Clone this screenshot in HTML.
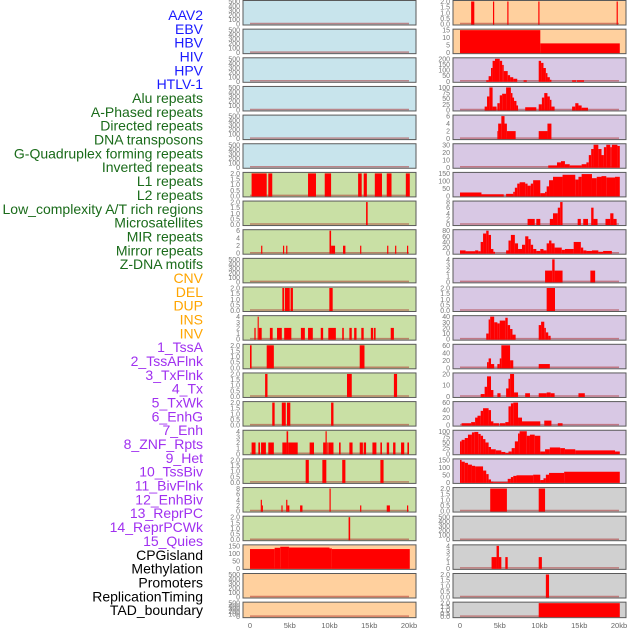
<!DOCTYPE html>
<html><head><meta charset="utf-8"><style>
html,body{margin:0;padding:0;background:#fff;width:630px;height:630px;overflow:hidden}
svg{display:block}
</style></head><body>
<svg id="chart" width="630" height="630" xmlns="http://www.w3.org/2000/svg" font-family="Liberation Sans, sans-serif"></svg>
<script>
// ---- data ----
const labelNames = ["AAV2","EBV","HBV","HIV","HPV","HTLV-1","Alu repeats","A-Phased repeats","Directed repeats","DNA transposons","G-Quadruplex forming repeats","Inverted repeats","L1 repeats","L2 repeats","Low_complexity A/T rich regions","Microsatellites","MIR repeats","Mirror repeats","Z-DNA motifs","CNV","DEL","DUP","INS","INV","1_TssA","2_TssAFlnk","3_TxFlnk","4_Tx","5_TxWk","6_EnhG","7_Enh","8_ZNF_Rpts","9_Het","10_TssBiv","11_BivFlnk","12_EnhBiv","13_ReprPC","14_ReprPCWk","15_Quies","CPGisland","Methylation","Promoters","ReplicationTiming","TAD_boundary"];
const labelGroups = [0,0,0,0,0,0,1,1,1,1,1,1,1,1,1,1,1,1,1,2,2,2,2,2,3,3,3,3,3,3,3,3,3,3,3,3,3,3,3,4,4,4,4,4];
const xTickLabels = ["0","5kb","10kb","15kb","20kb"];
const xTickValues = [0,5,10,15,20];

const T500=[0,100,200,300,400,500], T2=[0.0,0.5,1.0,1.5,2.0], T4=[0,1,2,3,4], T6=[0,2,4,6], T8=[0,2,4,6,8];
// left column: backgrounds, ticks, segments [startKb,endKb,value]
const leftBg = ["b","b","b","b","b","b","g","g","g","g","g","g","g","g","g","g","g","g","g","o","o","o"];
const leftTicks = [T500,T500,T500,T500,T500,T500,T2,T2,T6,T500,T2,T4,T2,T2,T2,T4,T2,T8,T2,[0,50,100,150],T500,T500];
const leftMax = [500,500,500,500,500,500,2,2,6,500,2,4,2,2,2,4,2,8,2,175,500,500];
const leftSegs = [[],[],[],[],[],[],
 [[0.2,2.1,2],[2.3,2.8,2],[7.3,8.3,2],[9.4,10.2,2],[13.6,14.05,2],[14.3,14.7,2],[15.7,16.6,2],[17.2,17.8,2],[19.6,20.1,2]],
 [[14.6,14.8,2]],
 [[1.4,1.55,2],[4.15,4.3,2],[4.55,4.7,2],[10.0,10.2,6],[10.2,10.7,2],[11.7,12.0,2],[13.85,14.0,2],[17.25,17.4,2],[18.25,18.4,2],[19.75,19.9,2]],
 [],
 [[4.07,4.3,2],[4.4,5.0,2],[5.1,5.4,2],[9.98,10.4,2]],
 [[0.55,0.71,2],[0.96,1.1,4],[1.1,1.47,2],[2.5,2.85,2],[3.4,4.0,2],[4.3,5.2,2],[6.4,6.9,2],[7.3,7.9,2],[8.9,9.2,2],[9.85,10.8,2],[11.6,11.8,2],[12.5,12.8,2],[13.1,13.4,2],[14.0,14.3,2],[15.2,15.5,2],[15.6,15.8,2],[17.7,18.1,2]],
 [[0.0,0.2,2],[2.1,3.0,2],[13.8,14.4,2]],
 [[1.9,2.2,2],[12.2,12.8,2],[18.1,18.5,2]],
 [[2.8,3.1,2],[4.0,4.5,2],[4.65,5.07,2],[10.2,10.5,2]],
 [[0.2,0.7,2],[1.05,1.26,2],[1.39,2.0,2],[2.3,3.0,2],[4.07,4.6,2],[4.6,4.8,4],[4.8,6.0,2],[7.5,8.05,2],[9.2,9.5,2],[9.5,9.65,4],[9.65,9.7,2],[9.85,10.5,2],[11.2,11.4,2],[12.5,12.9,2],[13.8,14.2,2],[14.3,14.6,2],[15.4,15.9,2],[16.4,16.6,2],[17.2,17.5,2],[18.0,18.3,2],[19.0,19.4,2],[19.8,20.0,2]],
 [[7.0,7.4,2],[9.1,9.6,2],[11.6,12.0,2],[16.4,16.8,2]],
 [[1.35,1.5,4],[1.5,1.6,2],[3.95,4.1,2],[4.55,4.7,4],[4.7,4.95,2],[6.3,6.6,2],[10.0,10.15,8],[13.85,14.0,2],[17.2,17.6,2],[19.75,19.9,2]],
 [[12.4,12.6,2]],
 [[0,3.1,150],[3.1,3.8,160],[3.8,4.9,168],[4.9,10.0,162],[10.0,10.3,155],[10.3,20.1,150]],
 [],[]];
// right column
const rightBg = ["o","o","p","p","p","p","p","p","p","p","p","p","p","p","p","p","p","y","y","y","y","y"];
const rightTicks = [T2,[0,5,10,15],[0,50,100,150,200],[0,25,50,75,100],T6,[0,10,20,30],[0,50,100,150],T8,[0,20,40,60,80],T4,T2,[0,10,20,30,40],[0,20,40,60],[0,10,20],[0,20,40,60],[0,25,50,75,100],[0,50,100,150],T2,T500,T4,T2,T2];
const rightMax = [2,17,220,100,6,37,165,8,80,4,2,40,60,28,60,100,190,2,500,4,2,2];
const rightSegs = [
 [[1.4,1.8,2],[4.15,4.3,2],[5.95,6.1,2],[9.85,10.0,2],[19.7,19.85,2]],
 [[0,10.1,17],[10.1,20.1,7]],
 [[3.3,3.6,10],[3.6,3.9,50],[3.9,4.1,130],[4.1,4.4,200],[4.4,5.0,220],[5.0,5.3,200],[5.3,5.5,160],[5.5,6.0,100],[6.0,6.3,60],[6.3,6.7,40],[6.7,7.2,25],[8.0,8.4,10],[9.9,10.2,200],[10.2,10.5,180],[10.5,10.8,130],[10.8,11.0,80],[11.0,11.3,40],[11.3,11.5,15],[14.1,14.6,10],[14.7,15.6,10]],
 [[3.1,3.4,15],[3.4,3.7,60],[3.7,4.1,100],[4.1,4.6,15],[4.7,5.0,30],[5.0,5.3,65],[5.3,5.8,72],[5.8,6.4,100],[6.4,6.6,75],[6.6,6.8,55],[6.8,7.1,40],[7.1,7.3,20],[8.2,9.6,12],[9.9,10.3,25],[10.3,10.6,55],[10.6,11.0,75],[11.0,11.3,60],[11.3,11.5,45],[11.5,11.9,15],[14.1,14.5,15],[14.5,14.9,30],[14.9,15.3,20],[15.3,16.1,10]],
 [[4.7,4.8,2],[4.8,5.2,4],[5.2,5.6,6],[5.6,5.9,4],[5.9,7.0,2],[9.9,11.0,2],[11.0,11.5,4]],
 [[11.1,12.2,3],[12.2,12.7,8],[12.7,13.2,10],[13.2,13.8,5],[13.8,15.3,3],[15.3,15.9,5],[15.9,16.2,8],[16.2,16.5,20],[16.5,16.8,30],[16.8,17.4,37],[17.4,17.8,30],[17.8,18.1,20],[18.1,18.4,33],[18.4,18.9,37],[18.9,19.1,33],[19.1,19.8,37],[19.8,20.1,35]],
 [[0,2.7,25],[2.7,5.5,12],[5.8,6.7,15],[6.7,6.9,30],[6.9,7.2,60],[7.2,7.5,90],[7.5,8.2,100],[8.2,8.5,90],[8.5,8.9,75],[8.9,9.2,90],[9.2,10.1,115],[10.1,10.7,20],[10.7,10.9,30],[10.9,11.2,70],[11.2,11.7,115],[11.7,12.9,140],[12.9,14.5,155],[14.5,14.9,120],[14.9,15.3,140],[15.3,16.6,160],[16.6,17.2,130],[17.2,17.8,140],[17.8,18.4,145],[18.4,19.5,135],[19.5,20.1,140]],
 [[8.5,9.4,2],[9.6,10.1,2],[11.3,11.7,2],[11.7,12.3,4],[12.3,12.6,6],[12.6,12.9,8],[14.8,15.2,2],[15.5,16.1,2],[16.5,16.8,6],[16.8,17.3,2],[18.3,18.9,2],[18.9,19.3,4],[19.3,19.7,2]],
 [[0,0.7,10],[0.7,1.9,7],[1.9,2.3,10],[2.3,2.6,7],[2.6,2.9,40],[2.9,3.3,70],[3.3,3.6,80],[3.6,3.9,65],[3.9,4.2,15],[4.2,4.4,5],[5.8,6.1,10],[6.1,6.4,45],[6.4,6.9,65],[6.9,7.3,35],[7.3,7.8,15],[7.8,8.2,30],[8.2,8.6,60],[8.6,8.9,50],[8.9,9.2,30],[9.2,9.6,15],[9.6,10.1,8],[10.1,10.5,15],[10.5,10.9,10],[10.9,11.2,35],[11.2,11.5,45],[11.5,11.9,35],[11.9,12.8,20],[12.8,13.2,12],[13.2,14.3,15],[14.3,15.2,40],[15.2,15.5,20],[15.5,15.9,10],[15.9,16.6,8],[16.6,17.4,10],[17.4,18.0,5],[18.0,19.1,8]],
 [[10.7,11.6,2],[11.6,11.9,4],[11.9,12.9,2],[16.4,17.0,2]],
 [[10.9,11.95,2]],
 [[3.3,3.6,10],[3.6,3.8,35],[3.8,4.3,40],[4.3,4.7,30],[4.7,5.0,28],[5.0,5.7,33],[5.7,6.0,38],[6.0,6.3,25],[6.3,6.6,18],[6.6,7.0,8],[9.9,10.2,25],[10.2,10.6,31],[10.6,10.8,20],[10.8,11.1,12],[11.1,11.4,6]],
 [[3.4,3.6,15],[3.6,3.9,25],[3.9,4.3,10],[4.7,5.0,10],[5.0,5.2,25],[5.2,6.3,60],[6.3,6.7,20],[9.9,11.3,10]],
 [[2.6,3.1,3],[3.1,3.4,12],[3.4,3.9,25],[3.9,4.2,8],[4.7,5.1,4],[5.8,6.1,10],[6.1,6.3,22],[6.3,6.8,28],[6.8,7.3,5],[8.2,8.8,4],[9.9,10.9,4],[10.9,11.4,5],[11.4,11.9,4],[14.9,15.7,4]],
 [[0.2,1.4,5],[1.4,1.9,8],[1.9,2.2,20],[2.2,2.6,25],[2.6,2.9,38],[2.9,3.6,45],[3.6,3.9,40],[3.9,4.2,10],[4.2,4.9,5],[5.0,5.7,5],[5.7,6.1,8],[6.1,6.4,50],[6.4,6.7,58],[6.7,7.3,60],[7.3,7.8,20],[7.8,10.1,10],[10.6,11.5,12],[12.3,12.9,5]],
 [[0,0.2,55],[0.2,0.6,62],[0.6,1.0,70],[1.0,1.5,85],[1.5,1.8,95],[1.8,2.3,97],[2.3,2.6,88],[2.6,2.9,80],[2.9,3.2,65],[3.2,3.6,50],[3.6,3.9,30],[3.9,4.5,20],[4.5,5.2,15],[5.2,5.7,8],[5.7,6.1,3],[6.1,6.5,10],[6.5,6.9,25],[6.9,7.3,55],[7.3,7.5,90],[7.5,8.4,100],[8.4,8.8,80],[8.8,9.4,85],[9.4,10.1,80],[10.1,10.7,10],[10.7,11.3,20],[11.3,12.6,28],[12.6,13.2,25],[13.2,14.5,20],[14.5,19.5,15],[19.5,20.1,10]],
 [[0,0.2,190],[0.2,0.6,175],[0.6,1.0,165],[1.0,1.5,150],[1.5,1.9,140],[1.9,2.9,135],[2.9,3.3,100],[3.3,3.6,70],[3.6,3.9,25],[3.9,4.2,5],[4.2,6.0,2],[6.0,6.4,30],[6.4,6.7,45],[6.7,7.1,55],[7.1,9.2,60],[9.2,10.1,65],[10.1,10.5,20],[10.5,10.8,35],[10.8,11.2,65],[11.2,13.1,80],[13.1,20.1,90]],
 [[3.8,5.9,2],[9.9,10.7,2]],
 [],
 [[3.97,4.6,2],[4.6,4.9,4],[4.9,5.2,2],[5.7,6.0,2],[9.9,10.3,2]],
 [[10.8,11.2,2]],
 [[9.9,20.1,2]]
];

// ---- layout / drawing ----
const NS="http://www.w3.org/2000/svg";
const svg=document.getElementById('chart');
const bgColor={b:"#c8e4ec",g:"#c9e0a5",o:"#ffd09e",p:"#d8c8e4",y:"#d0d0d0"};
const groupColor=["#1a1aff","#1a6b1a","#ffa500","#a030f0","#000000"];
function mk(tag,attrs,parent){const e=document.createElementNS(NS,tag);for(const k in attrs)e.setAttribute(k,attrs[k]);(parent||svg).appendChild(e);return e;}
function rowTop(i){return 0.5+i*28.65;}
function rowH(i){return i===21?15.5:24.5;}

labelNames.forEach((t,k)=>{
  const el=mk('text',{x:203,y:15+k*13.84+5,'text-anchor':'end','font-size':'14',fill:groupColor[labelGroups[k]]});
  el.textContent=t;
  
  
});

function drawPanel(col,i,bg,ticks,ymax,segs){
  const px0=col===0?243:453, pw=173, x0=px0+7, kbw=7.95;
  const top=rowTop(i), h=rowH(i);
  const xs=kb=>x0+kb*kbw;
  const y0=top+h-1, ys=v=>y0-(v/ymax)*(h-2);
  const g=mk('g',{});
  
  
  mk('rect',{x:px0,y:top,width:pw,height:h,fill:bgColor[bg],stroke:"#5a5a5a",'stroke-width':1},g);
  mk('line',{x1:xs(0),x2:xs(20),y1:y0-0.5,y2:y0-0.5,stroke:"rgba(170,40,40,0.5)",'stroke-width':1.5},g);
  segs.forEach(s=>{
    const r=mk('rect',{x:xs(s[0]),y:ys(s[2]),width:Math.max(1,(s[1]-s[0])*kbw),height:y0-ys(s[2])+0.5,fill:"#ff0000"},g);
    
    
  });
  const tmax=ticks[ticks.length-1];
  ticks.forEach(t=>{
    const tt=mk('text',{x:px0-3,y:y0-(t/tmax)*(h-2)+2.5,'text-anchor':'end','font-size':'7',fill:"#777"},g);
    tt.textContent=(ticks===T2)?t.toFixed(1):String(t);
    
    
  });
}
for(let i=0;i<22;i++){
  drawPanel(0,i,leftBg[i],leftTicks[i],leftMax[i],leftSegs[i]);
  drawPanel(1,i,rightBg[i],rightTicks[i],rightMax[i],rightSegs[i]);
}
[250,460].forEach((x0,c)=>{
  xTickValues.forEach((v,j)=>{
    const t=mk('text',{x:x0+v*7.95,y:628,'text-anchor':'middle','font-size':'7.5',fill:"#666"});
    t.textContent=xTickLabels[j];
    
    
  });
});
</script>
</body></html>
